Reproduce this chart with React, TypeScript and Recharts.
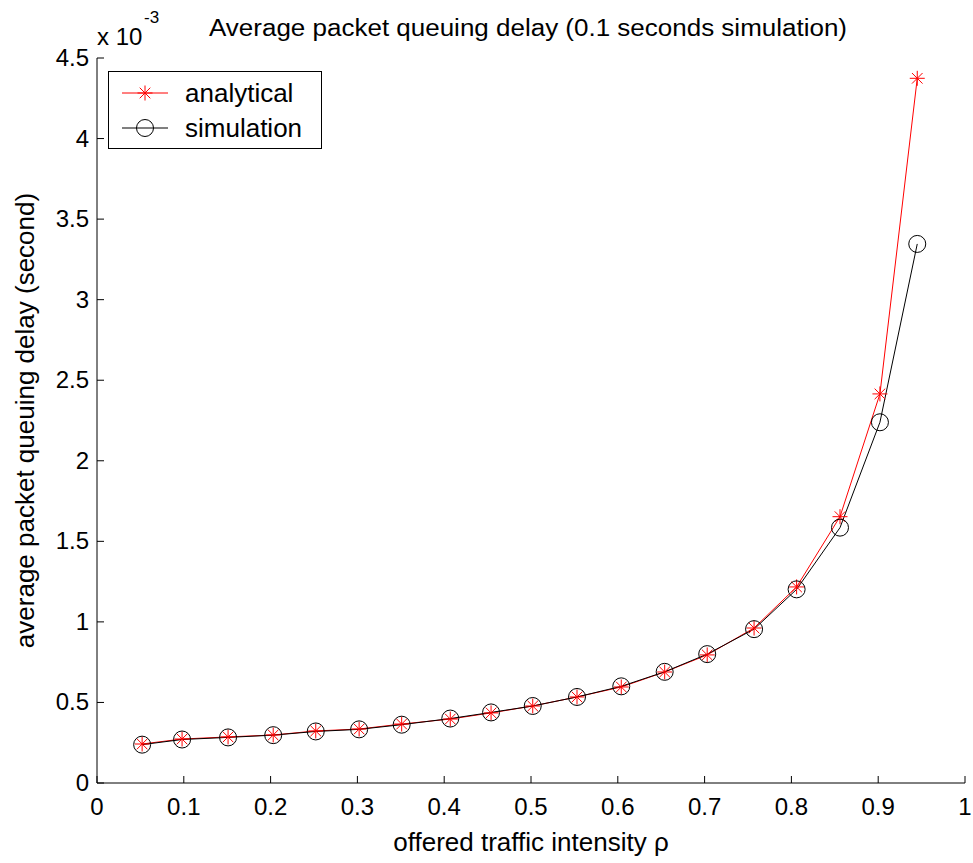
import React from 'react';
import {
  LineChart,
  Line,
  XAxis,
  YAxis,
  Legend,
} from 'recharts';

// offered traffic intensity (rho) and delays in units of 1e-3 s
const rho = [0.052, 0.098, 0.151, 0.203, 0.252, 0.302, 0.351, 0.407, 0.454, 0.502, 0.553, 0.604, 0.654, 0.703, 0.757, 0.806, 0.856, 0.902, 0.945];
const analytical = [0.242, 0.273, 0.286, 0.298, 0.323, 0.335, 0.366, 0.397, 0.435, 0.478, 0.534, 0.596, 0.689, 0.795, 0.962, 1.217, 1.653, 2.415, 4.374];
const simulation = [0.238, 0.27, 0.283, 0.297, 0.32, 0.333, 0.362, 0.4, 0.438, 0.478, 0.534, 0.6, 0.69, 0.8, 0.955, 1.202, 1.585, 2.239, 3.346];

const xTicks = [0, 0.1, 0.2, 0.3, 0.4, 0.5, 0.6, 0.7, 0.8, 0.9, 1];
const yTicks = [0, 0.5, 1, 1.5, 2, 2.5, 3, 3.5, 4, 4.5];

const data = rho.map((r, i) => ({ rho: r, analytical: analytical[i], simulation: simulation[i] }));

const FONT = '"Liberation Sans", Arial, sans-serif';
const TICK = 7;

const Star = (props: any) => {
  const { cx, cy } = props;
  if (cx == null || cy == null) return null;
  const s = 7.5;
  const d = 5.3;
  return (
    <g stroke="#ff0000" strokeWidth={1}>
      <line x1={cx - s} y1={cy} x2={cx + s} y2={cy} />
      <line x1={cx} y1={cy - s} x2={cx} y2={cy + s} />
      <line x1={cx - d} y1={cy - d} x2={cx + d} y2={cy + d} />
      <line x1={cx - d} y1={cy + d} x2={cx + d} y2={cy - d} />
    </g>
  );
};

const Ring = (props: any) => {
  const { cx, cy } = props;
  if (cx == null || cy == null) return null;
  return <circle cx={cx} cy={cy} r={8.5} fill="none" stroke="#000" strokeWidth={1} />;
};

const fmt = (v: number) => String(v);

const BottomTick = ({ x, y, payload }: any) => (
  <g>
    <line x1={x} x2={x} y1={y} y2={y - TICK} stroke="#000" />
    <text x={x} y={y + 32} textAnchor="middle" fontFamily={FONT} fontSize={24} fill="#000">
      {fmt(payload.value)}
    </text>
  </g>
);

const TopTick = ({ x, y }: any) => <line x1={x} x2={x} y1={y} y2={y + TICK} stroke="#000" />;

const LeftTick = ({ x, y, payload }: any) => (
  <g>
    <line x1={x} x2={x + TICK} y1={y} y2={y} stroke="#000" />
    <text x={x - 8} y={y + 8} textAnchor="end" fontFamily={FONT} fontSize={24} fill="#000">
      {fmt(payload.value)}
    </text>
  </g>
);

const RightTick = ({ x, y }: any) => <line x1={x} x2={x - TICK} y1={y} y2={y} stroke="#000" />;

const LegendBox = () => (
  <div
    style={{
      width: 212,
      height: 76,
      border: '1px solid #000',
      background: '#fff',
      position: 'relative',
    }}
  >
    <svg width={212} height={76} style={{ position: 'absolute', left: 0, top: 0 }}>
      <line x1={13} x2={59} y1={21} y2={21} stroke="#ff0000" />
      <Star cx={36} cy={21} />
      <line x1={13} x2={59} y1={56} y2={56} stroke="#000" />
      <Ring cx={36} cy={56} />
      <text x={76} y={30} fontFamily={FONT} fontSize={26} fill="#000">analytical</text>
      <text x={76} y={65} fontFamily={FONT} fontSize={26} fill="#000">simulation</text>
    </svg>
  </div>
);

export default function App() {
  return (
    <div style={{ position: 'fixed', left: 0, top: 0, width: 973, height: 863, background: '#fff' }}>
      <svg width={973} height={60} style={{ position: 'absolute', left: 0, top: 0 }}>
        <text x={528} y={36} textAnchor="middle" fontFamily={FONT} fontSize={23} fill="#000" textLength={638} lengthAdjust="spacingAndGlyphs">
          Average packet queuing delay (0.1 seconds simulation)
        </text>
        <text x={97} y={45} fontFamily={FONT} fontSize={24} fill="#000">x 10</text>
        <text x={144} y={23} fontFamily={FONT} fontSize={17} fill="#000">-3</text>
      </svg>
      <LineChart
        width={973}
        height={863}
        data={data}
        margin={{ top: 58, right: 8, bottom: 0, left: 0 }}
        style={{ position: 'absolute', left: 0, top: 0 }}
      >
        <XAxis
          xAxisId="b"
          dataKey="rho"
          type="number"
          domain={[0, 1]}
          ticks={xTicks}
          height={80}
          tickSize={0}
          tickMargin={0}
          tickLine={false}
          axisLine={{ stroke: '#000' }}
          tick={<BottomTick />}
          interval={0}
          label={{
            value: 'offered traffic intensity ρ',
            position: 'insideBottom',
            offset: 12,
            fontFamily: FONT,
            fontSize: 26,
            fill: '#000',
          }}
        />
        <XAxis
          xAxisId="t"
          orientation="top"
          dataKey="rho"
          type="number"
          domain={[0, 1]}
          ticks={xTicks}
          height={0}
          tickSize={0}
          tickMargin={0}
          tickLine={false}
          axisLine={{ stroke: '#000' }}
          tick={<TopTick />}
          interval={0}
        />
        <YAxis
          yAxisId="l"
          type="number"
          domain={[0, 4.5]}
          ticks={yTicks}
          width={97}
          tickSize={0}
          tickMargin={0}
          tickLine={false}
          axisLine={{ stroke: '#000' }}
          tick={<LeftTick />}
          interval={0}
          label={{
            value: 'average packet queuing delay (second)',
            angle: -90,
            position: 'insideLeft',
            offset: 25,
            style: { textAnchor: 'middle' },
            fontFamily: FONT,
            fontSize: 26,
            fill: '#000',
          }}
        />
        <YAxis
          yAxisId="r"
          orientation="right"
          type="number"
          domain={[0, 4.5]}
          ticks={yTicks}
          width={0}
          tickSize={0}
          tickMargin={0}
          tickLine={false}
          axisLine={{ stroke: '#000' }}
          tick={<RightTick />}
          interval={0}
        />
        <Legend
          layout="horizontal"
          verticalAlign="middle"
          align="center"
          wrapperStyle={{ left: 108, top: 71, width: 214, height: 78 }}
          content={() => <LegendBox />}
        />
        <Line
          xAxisId="b"
          yAxisId="l"
          type="linear"
          dataKey="analytical"
          stroke="#ff0000"
          strokeWidth={1}
          dot={<Star />}
          activeDot={false}
          isAnimationActive={false}
        />
        <Line
          xAxisId="b"
          yAxisId="l"
          type="linear"
          dataKey="simulation"
          stroke="#000"
          strokeWidth={1}
          dot={<Ring />}
          activeDot={false}
          isAnimationActive={false}
        />
      </LineChart>
    </div>
  );
}
